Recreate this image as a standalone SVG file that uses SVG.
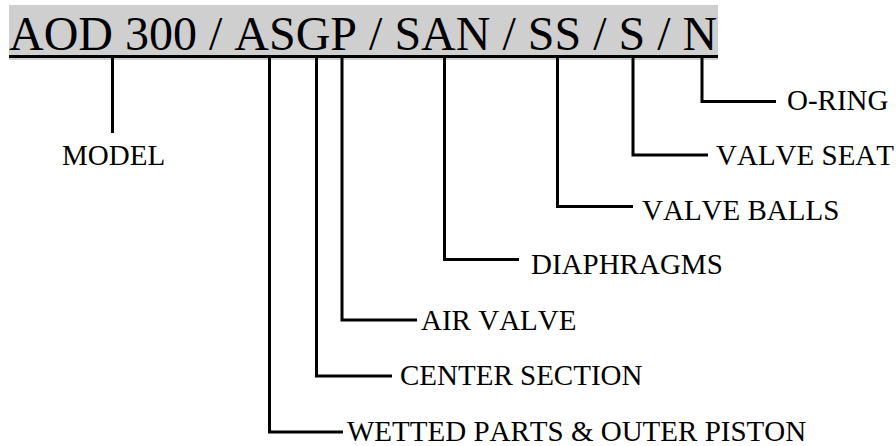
<svg xmlns="http://www.w3.org/2000/svg" width="896" height="446" viewBox="0 0 896 446">
<style>
text{font-family:"Liberation Serif","Times New Roman",serif;fill:#000;font-kerning:none}
.lbl{font-size:29px}
.code{font-size:48px}
.c{fill:none;stroke:#000;stroke-width:3;stroke-linejoin:miter;stroke-linecap:butt}
</style>
<rect x="0" y="0" width="896" height="446" fill="#fff"/>
<g id="header">
<rect x="9" y="5" width="709" height="55" fill="#d0cfd0"/>
<text class="code" x="9" y="50">AOD 300 / ASGP / SAN / SS / S / N</text>
<line x1="9" y1="56.5" x2="718" y2="56.5" stroke="#000" stroke-width="3"/>
</g>
<g id="connectors">
<path class="c" d="M112.5 58V133"/>
<path class="c" d="M702 58V101.5H776"/>
<path class="c" d="M633 58V155H708"/>
<path class="c" d="M557.5 58V206.5H633"/>
<path class="c" d="M444.5 58V259.5H519"/>
<path class="c" d="M342 58V320H417"/>
<path class="c" d="M316.5 58V376H392"/>
<path class="c" d="M269.5 58V432H343"/>
</g>
<g id="model"><text class="lbl" x="62" y="165">MODEL</text></g>
<g id="oring"><text class="lbl" x="787" y="110">O-RING</text></g>
<g id="valve-seat"><text class="lbl" x="716" y="165">VALVE SEAT</text></g>
<g id="valve-balls"><text class="lbl" x="642" y="220">VALVE BALLS</text></g>
<g id="diaphragms"><text class="lbl" x="531" y="274">DIAPHRAGMS</text></g>
<g id="air-valve"><text class="lbl" x="421" y="330">AIR VALVE</text></g>
<g id="center-section"><text class="lbl" x="400" y="385">CENTER SECTION</text></g>
<g id="wetted-parts"><text class="lbl" x="347" y="441">WETTED PARTS &amp; OUTER PISTON</text></g>
</svg>
